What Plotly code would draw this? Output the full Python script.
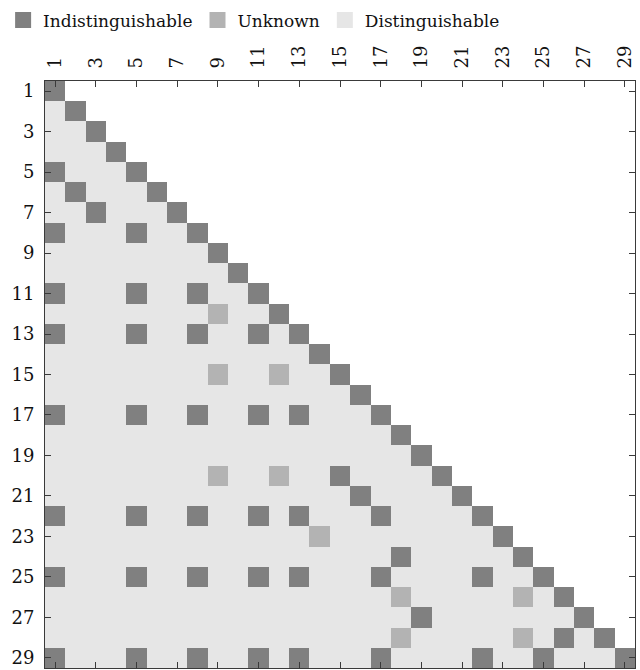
import numpy as np
import plotly.graph_objects as go

N = 29
labels = list(range(1, N + 1))
tick_labels = list(range(1, N + 1, 2))

status_names = ["Distinguishable", "Unknown", "Indistinguishable"]
status_colors = ["#e6e6e6", "#b3b3b3", "#808080"]

# lower-triangle pairs (row, col), row > col; diagonal is indistinguishable
indistinguishable_pairs = [
    (5, 1), (6, 2), (7, 3), (8, 1), (8, 5),
    (11, 1), (11, 5), (11, 8),
    (13, 1), (13, 5), (13, 8), (13, 11),
    (17, 1), (17, 5), (17, 8), (17, 11), (17, 13),
    (20, 15), (21, 16),
    (22, 1), (22, 5), (22, 8), (22, 11), (22, 13), (22, 17),
    (24, 18),
    (25, 1), (25, 5), (25, 8), (25, 11), (25, 13), (25, 17), (25, 22),
    (27, 19), (28, 26),
    (29, 1), (29, 5), (29, 8), (29, 11), (29, 13), (29, 17), (29, 22), (29, 25),
]
unknown_pairs = [
    (12, 9), (15, 9), (15, 12), (20, 9), (20, 12), (23, 14),
    (26, 18), (26, 24), (28, 18), (28, 24),
]

z = np.full((N, N), np.nan)
for r in labels:
    for c in labels:
        if c < r:
            z[r - 1, c - 1] = 0
        elif c == r:
            z[r - 1, c - 1] = 2
for r, c in indistinguishable_pairs:
    z[r - 1, c - 1] = 2
for r, c in unknown_pairs:
    z[r - 1, c - 1] = 1

colorscale = [
    [0.0, status_colors[0]], [1 / 3, status_colors[0]],
    [1 / 3, status_colors[1]], [2 / 3, status_colors[1]],
    [2 / 3, status_colors[2]], [1.0, status_colors[2]],
]

FONT = "DejaVu Serif, serif"

fig = go.Figure()
fig.add_trace(go.Heatmap(
    z=z, x=labels, y=labels, zmin=-0.5, zmax=2.5,
    colorscale=colorscale, showscale=False, hoverongaps=False,
))
for idx in [2, 1, 0]:
    fig.add_trace(go.Scatter(
        x=[None], y=[None], mode="markers", name=status_names[idx],
        marker=dict(symbol="square", size=20, color=status_colors[idx]),
        showlegend=True,
    ))

axis_common = dict(
    showgrid=False, zeroline=False, showline=True, linecolor="#3a3a3a",
    linewidth=1, mirror="ticks", ticks="inside", ticklen=6,
    tickcolor="#3a3a3a", tickwidth=1,
    tickvals=tick_labels, ticktext=[str(t) for t in tick_labels],
    tickfont=dict(family=FONT, size=18, color="#111111"),
)

fig.update_layout(
    width=640, height=670, autosize=False,
    margin=dict(l=45, r=5, t=79, b=2),
    paper_bgcolor="white", plot_bgcolor="white",
    font=dict(family=FONT, size=18, color="#111111"),
    xaxis=dict(side="top", range=[0.5, N + 0.5], tickangle=-90,
               ticklabelstandoff=8, **axis_common),
    yaxis=dict(range=[N + 0.5, 0.5], ticklabelstandoff=6, **axis_common),
    legend=dict(
        orientation="h", x=-0.071, xanchor="left", y=1.134, yanchor="top",
        font=dict(family=FONT, size=17, color="#111111"),
        bgcolor="rgba(0,0,0,0)", itemsizing="trace",
    ),
)

fig.write_html("out.html")
